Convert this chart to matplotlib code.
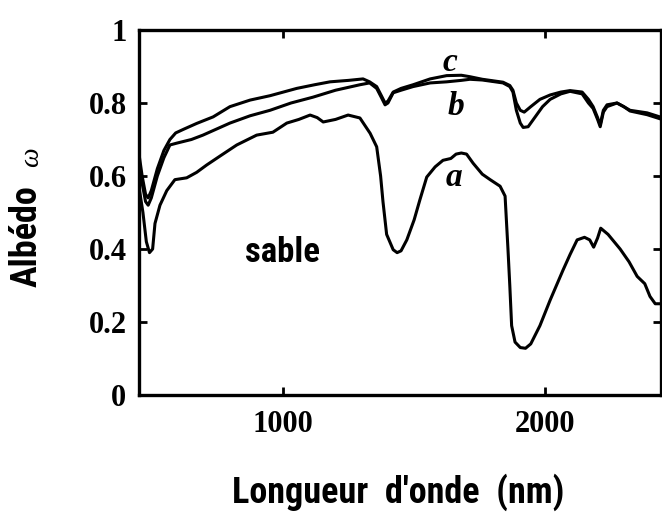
import matplotlib
matplotlib.use("Agg")
import matplotlib.pyplot as plt

# ---------------------------------------------------------------------------
# spectral albedo of sand, three samples (a, b, c)
# ---------------------------------------------------------------------------

wl_a = [450, 465, 478, 490, 502, 511, 530, 556, 587, 632, 670, 708, 760, 823,
        899, 961, 1014, 1060, 1103, 1130, 1153, 1200, 1248, 1293, 1332, 1357,
        1372, 1381, 1395, 1420, 1435, 1450, 1472, 1500, 1522, 1548, 1580, 1610,
        1640, 1660, 1680, 1700, 1725, 1760, 1790, 1828, 1847, 1858, 1865, 1872,
        1885, 1905, 1925, 1945, 1980, 2019, 2068, 2095, 2122, 2150, 2170, 2185,
        2200, 2212, 2240, 2286, 2320, 2351, 2380, 2400, 2420, 2445]
alb_a = [0.57, 0.50, 0.42, 0.39, 0.40, 0.47, 0.52, 0.56, 0.59, 0.595, 0.61, 0.63,
         0.655, 0.685, 0.712, 0.72, 0.745, 0.755, 0.767, 0.76, 0.748, 0.755,
         0.767, 0.759, 0.717, 0.68, 0.60, 0.53, 0.44, 0.398, 0.39, 0.395, 0.425,
         0.48, 0.535, 0.597, 0.625, 0.643, 0.648, 0.66, 0.663, 0.66, 0.635,
         0.605, 0.59, 0.572, 0.545, 0.40, 0.30, 0.19, 0.145, 0.13, 0.128, 0.14,
         0.19, 0.26, 0.342, 0.385, 0.425, 0.432, 0.425, 0.405, 0.43, 0.457,
         0.44, 0.40, 0.365, 0.325, 0.305, 0.27, 0.25, 0.25]

wl_b = [450, 462, 475, 485, 497, 520, 545, 568, 594, 650, 694, 797, 874, 950,
        1030, 1114, 1200, 1293, 1330, 1357, 1375, 1389, 1400, 1420, 1450, 1496,
        1561, 1624, 1680, 1713, 1760, 1839, 1865, 1877, 1890, 1905, 1916, 1935,
        1960, 1990, 2019, 2060, 2095, 2141, 2165, 2183, 2200, 2210, 2222, 2236,
        2274, 2300, 2324, 2389, 2446]
alb_b = [0.64, 0.58, 0.53, 0.52, 0.54, 0.60, 0.65, 0.685, 0.69, 0.70, 0.712,
         0.745, 0.765, 0.78, 0.80, 0.816, 0.835, 0.85, 0.855, 0.84, 0.815, 0.795,
         0.80, 0.828, 0.835, 0.845, 0.855, 0.858, 0.862, 0.865, 0.863, 0.855,
         0.845, 0.83, 0.78, 0.745, 0.733, 0.735, 0.76, 0.79, 0.81, 0.825, 0.832,
         0.825, 0.80, 0.785, 0.755, 0.735, 0.775, 0.79, 0.80, 0.79, 0.778,
         0.768, 0.755]

wl_c = [450, 462, 475, 485, 497, 520, 545, 568, 590, 620, 670, 733, 797, 874,
        950, 1052, 1120, 1179, 1250, 1305, 1330, 1357, 1375, 1389, 1400, 1420,
        1450, 1496, 1561, 1624, 1680, 1713, 1760, 1839, 1865, 1877, 1890, 1905,
        1920, 1945, 1980, 2019, 2060, 2095, 2141, 2165, 2183, 2200, 2210, 2222,
        2236, 2274, 2300, 2324, 2389, 2446]
alb_c = [0.66, 0.60, 0.55, 0.54, 0.56, 0.62, 0.67, 0.70, 0.718, 0.728, 0.744,
         0.762, 0.79, 0.808, 0.82, 0.84, 0.85, 0.858, 0.862, 0.866, 0.858,
         0.845, 0.82, 0.80, 0.805, 0.83, 0.84, 0.85, 0.866, 0.875, 0.876, 0.872,
         0.865, 0.857, 0.848, 0.835, 0.80, 0.78, 0.775, 0.79, 0.81, 0.822, 0.83,
         0.834, 0.83, 0.81, 0.79, 0.76, 0.74, 0.78, 0.795, 0.80, 0.79, 0.78,
         0.773, 0.76]

x_ticks = [1000, 2000]
y_ticks = [0, 0.2, 0.4, 0.6, 0.8, 1.0]
y_tick_labels = ["0", "0.2", "0.4", "0.6", "0.8", "1"]

# ---------------------------------------------------------------------------
# fonts
# ---------------------------------------------------------------------------

narrow = "Roboto Condensed"
serif = "Liberation Serif"

# ---------------------------------------------------------------------------
# plot
# ---------------------------------------------------------------------------

fig = plt.figure(figsize=(6.62, 5.18), dpi=100)
ax = fig.add_axes([139 / 662, 123 / 518, 522 / 662, 365 / 518])

for wl, alb in [(wl_a, alb_a), (wl_b, alb_b), (wl_c, alb_c)]:
    ax.plot(wl, alb, color="black", lw=2.2, solid_joinstyle="round")

ax.set_xlim(450, 2442)
ax.set_ylim(0, 1)

for side in ax.spines.values():
    side.set_linewidth(2.4)

ax.set_xticks(x_ticks)
ax.set_xticklabels([str(t) for t in x_ticks])
ax.set_yticks(y_ticks)
ax.set_yticklabels(y_tick_labels)
ax.tick_params(axis="both", direction="in", length=6, width=2,
               top=True, right=True)
ax.tick_params(axis="x", pad=11)
ax.tick_params(axis="y", pad=9)
for lab in ax.get_xticklabels() + ax.get_yticklabels():
    lab.set_fontfamily(serif)
    lab.set_fontweight("bold")
    lab.set_fontsize(22)

ax.set_xlabel("Longueur  d'onde  (nm)", family=narrow, fontweight="bold",
              fontsize=26, va="center")
ax.xaxis.set_label_coords(0.496, -0.266)
ax.set_ylabel("Albédo", family=narrow, fontweight="bold", fontsize=26,
              va="center")
ax.yaxis.set_label_coords(-0.2146, 0.4356)
fig.text(32 / 662, 1 - 157 / 518, "ω", family=serif, style="italic",
         fontsize=20, rotation=90, ha="center", va="center")

# curve and material annotations
ax.text(996, 0.39, "sable", family=narrow, fontweight="bold", fontsize=25,
        ha="center", va="center")
ax.text(1637, 0.91, "c", family=serif, fontweight="bold", style="italic",
        fontsize=24, ha="center", va="center")
ax.text(1660, 0.79, "b", family=serif, fontweight="bold", style="italic",
        fontsize=24, ha="center", va="center")
ax.text(1652, 0.595, "a", family=serif, fontweight="bold", style="italic",
        fontsize=24, ha="center", va="center")

fig.savefig("out.png", dpi=100)
